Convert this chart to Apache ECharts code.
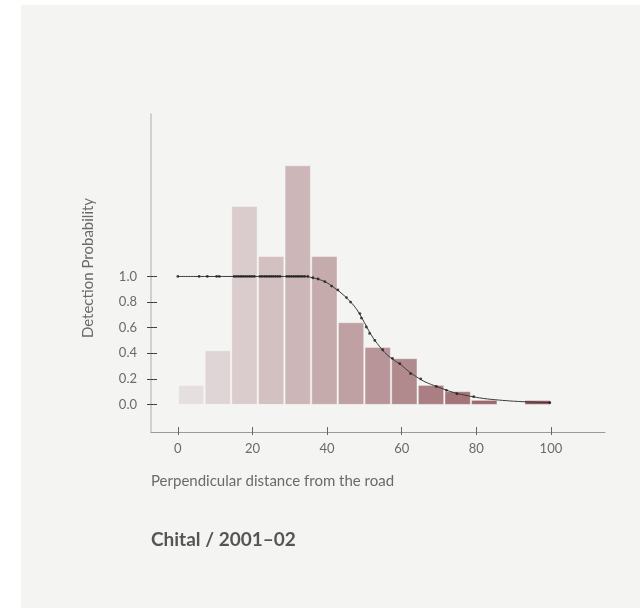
<!DOCTYPE html>
<html>
<head>
<meta charset="utf-8">
<title>Chital / 2001–02</title>
<script src="https://cdn.jsdelivr.net/npm/echarts@6/dist/echarts.min.js"></script>
<style>
  html, body { margin: 0; padding: 0; background: #ffffff; }
  #chart { width: 640px; height: 608px; }
</style>
</head>
<body>
<div id="chart"></div>
<script>
// Histogram of perpendicular sighting distances (14 bins of 100/14 m)
const binStarts = [0, 7.14, 14.29, 21.43, 28.57, 35.71, 42.86, 50, 57.14, 64.29, 71.43, 78.57, 85.71, 92.86];
const binWidth = 7.14;
// bar heights, scaled to the detection-probability axis
const binHeights = [0.148, 0.42, 1.547, 1.156, 1.865, 1.156, 0.638, 0.445, 0.357, 0.148, 0.099, 0.031, 0, 0.029];

// fitted detection function
const curveX = [0, 34, 36, 38, 40, 42, 44, 46, 48, 50, 52, 54, 56, 58, 60, 62, 64, 66, 68, 70, 74, 78, 82, 86, 90, 95, 100];
const curveP = [1, 1, 0.99, 0.975, 0.95, 0.91, 0.865, 0.81, 0.74, 0.64, 0.535, 0.455, 0.39, 0.345, 0.305, 0.255, 0.215, 0.18, 0.155, 0.133, 0.092, 0.066, 0.046, 0.034, 0.025, 0.018, 0.013];

// observed distances with their estimated detection probability
const obsX = [0, 5.7, 7.9, 10.4, 11.1,
  15.1, 15.7, 16.3, 16.9, 17.5, 18.1, 18.7, 19.3, 19.9, 20.5,
  22.0, 22.6, 23.2, 23.8, 24.4, 25.0, 25.6, 26.2, 26.8, 27.4,
  29.2, 29.8, 30.4, 31.0, 31.6, 32.2, 32.8, 33.4, 34.0, 34.8,
  36.2, 37.6, 39.4, 41.2, 42.9, 45.2, 46.3, 48.8, 49.2, 50.5, 51.4, 52.8,
  54.9, 57.5, 59.5, 62.4, 65.1, 69.3, 72.0, 74.8, 79.3, 99.7];
const obsP = [1, 1, 1, 1, 1,
  1, 1, 1, 1, 1, 1, 1, 1, 1, 1,
  1, 1, 1, 1, 1, 1, 1, 1, 1, 1,
  1, 1, 1, 1, 1, 1, 1, 1, 1, 1,
  0.99, 0.98, 0.96, 0.925, 0.895, 0.835, 0.80, 0.71, 0.675, 0.605, 0.555, 0.5,
  0.427, 0.36, 0.318, 0.24, 0.2, 0.14, 0.11, 0.083, 0.06, 0.013];

const yTicks = [0, 0.2, 0.4, 0.6, 0.8, 1.0];
const xTicks = [0, 20, 40, 60, 80, 100];

const titleText = 'Chital / 2001–02';
const xName = 'Perpendicular distance from the road';
const yName = 'Detection Probability';

// light-to-dark colour ramp across the bins
const rampFrom = [230, 223, 223];
const rampTo = [142, 82, 88];
function rampColor(i, n) {
  const t = Math.pow(i / (n - 1), 1.05);
  const c = rampFrom.map((a, k) => Math.round(a + (rampTo[k] - a) * t));
  return 'rgb(' + c.join(',') + ')';
}

const FONT = 'Lato, "Noto Sans", sans-serif';
const X_MIN = -7.2, X_MAX = 114.5;
const Y_MIN = -0.216, Y_MAX = 2.27;

const barData = binStarts.map((s, i) => [s, s + binWidth, binHeights[i], i]);
const curveData = curveX.map((x, i) => [x, curveP[i]]);
const obsData = obsX.map((x, i) => [x, obsP[i]]);

const chart = echarts.init(document.getElementById('chart'), null, { renderer: 'canvas' });

const yBase = {
  type: 'value', min: Y_MIN, max: Y_MAX, position: 'left', splitLine: { show: false }
};
const xBase = {
  type: 'value', min: X_MIN, max: X_MAX, position: 'bottom', splitLine: { show: false }
};

chart.setOption({
  backgroundColor: '#ffffff',
  animation: false,
  graphic: [
    { type: 'rect', z: -10, shape: { x: 21, y: 5, width: 619, height: 603 }, style: { fill: '#f4f4f2' } },
    { type: 'text', x: 88, y: 268, rotation: Math.PI / 2,
      style: { text: yName, font: '15px ' + FONT, fill: '#6a6a6a', align: 'center', verticalAlign: 'middle' } },
    { type: 'text', x: 151, y: 481,
      style: { text: xName, font: '15px ' + FONT, fill: '#6a6a6a', align: 'left', verticalAlign: 'middle' } },
    { type: 'text', x: 151, y: 540,
      style: { text: titleText, font: 'bold 19px ' + FONT, fill: '#555555', align: 'left', verticalAlign: 'middle' } }
  ],
  grid: { left: 151, top: 114, width: 454, height: 318, containLabel: false },
  xAxis: [
    Object.assign({}, xBase, {
      axisLine: { show: true, onZero: false, lineStyle: { color: '#9a9a9a', width: 1 } },
      axisTick: { show: true, inside: false, length: 3, customValues: xTicks, lineStyle: { color: '#666', width: 1 } },
      axisLabel: { show: true, customValues: xTicks, margin: 10, color: '#6a6a6a', fontSize: 13, fontFamily: FONT }
    }),
    Object.assign({}, xBase, {
      axisLine: { show: false, onZero: false },
      axisTick: { show: true, inside: true, length: 5, customValues: xTicks, lineStyle: { color: '#666', width: 1 } },
      axisLabel: { show: false }
    })
  ],
  yAxis: [
    Object.assign({}, yBase, {
      axisLine: { show: true, onZero: false, lineStyle: { color: '#c4c4c4', width: 1.5 } },
      axisTick: { show: true, inside: false, length: 4, customValues: yTicks, lineStyle: { color: '#444', width: 1 } },
      axisLabel: { show: true, customValues: yTicks, margin: 14, color: '#6a6a6a', fontSize: 13, fontFamily: FONT,
        formatter: v => v.toFixed(1) }
    }),
    Object.assign({}, yBase, {
      axisLine: { show: false, onZero: false },
      axisTick: { show: true, inside: true, length: 6, customValues: yTicks, lineStyle: { color: '#444', width: 1 } },
      axisLabel: { show: false }
    })
  ],
  series: [
    {
      type: 'custom',
      xAxisIndex: 0, yAxisIndex: 0,
      data: barData,
      encode: { x: [0, 1], y: 2 },
      z: 2,
      renderItem: function (params, api) {
        const h = api.value(2);
        if (!h) return null;
        const p0 = api.coord([api.value(0), h]);
        const p1 = api.coord([api.value(1), 0]);
        return {
          type: 'rect',
          shape: { x: p0[0] + 0.7, y: p0[1], width: p1[0] - p0[0] - 1.4, height: p1[1] - p0[1] },
          style: { fill: rampColor(api.value(3), binStarts.length), stroke: 'rgba(255,255,255,0.35)', lineWidth: 1 }
        };
      }
    },
    {
      type: 'line',
      xAxisIndex: 0, yAxisIndex: 0,
      data: curveData,
      smooth: 0.4,
      showSymbol: false,
      lineStyle: { color: '#3a3a3a', width: 1 },
      z: 3
    },
    {
      type: 'scatter',
      xAxisIndex: 0, yAxisIndex: 0,
      data: obsData,
      symbolSize: 2.8,
      itemStyle: { color: '#1e1e1e' },
      z: 4
    }
  ]
});
</script>
</body>
</html>
